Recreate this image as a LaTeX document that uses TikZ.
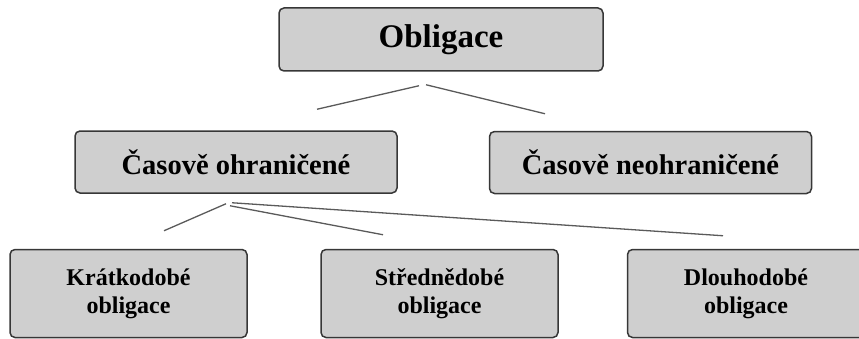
\documentclass[tikz,border=0pt]{standalone}
\usepackage{fontspec}
\setmainfont{Liberation Serif}[BoldFont={Liberation Serif Bold}]
\usepackage{tikz}
\usetikzlibrary{positioning}

\definecolor{boxfill}{RGB}{207,207,207}
\definecolor{boxline}{RGB}{55,55,55}
\definecolor{linkgray}{RGB}{90,90,90}

\tikzset{
    box/.style={draw=boxline, fill=boxfill, line width=1.5pt, rounded corners=5pt,
        inner sep=0pt, align=center, font=\rmfamily\bfseries},
    topbox/.style={box, minimum width=324pt, minimum height=63pt, font=\rmfamily\bfseries\fontsize{33}{38}\selectfont},
    midbox/.style={box, minimum width=322pt, minimum height=62pt, font=\rmfamily\bfseries\fontsize{28.5}{33}\selectfont},
    leafbox/.style={box, minimum width=237pt, minimum height=88pt, font=\rmfamily\bfseries\fontsize{24}{28}\selectfont},
    link/.style={draw=linkgray, line width=1.3pt},
}

\begin{document}
\begin{tikzpicture}[x=1pt, y=1pt]
        \useasboundingbox (0,0) rectangle (859,338);
        % boxes
        \node[topbox] (obl) at (441,298.5) {Obligace};
        \node[midbox] (ohr) at (236,176) {Časově ohraničené};
        \node[midbox] (neohr) at (650.5,175.5) {Časově neohraničené};
        \node[leafbox] (kratko) at (128.5,44.5) {Krátkodobé\\obligace};
        \node[leafbox] (stredne) at (439.5,44.5) {Střednědobé\\obligace};
        \node[leafbox] (dlouho) at (746,44.5) {Dlouhodobé\\obligace};
        % ends of the links
        \coordinate (obl-l) at ([shift={(-22,-14)}]obl.south);
        \coordinate (obl-r) at ([shift={(-15,-13)}]obl.south);
        \coordinate (ohr-in) at ([shift={(81,21)}]ohr.north);
        \coordinate (neohr-in) at ([shift={(-105.5,17)}]neohr.north);
        \coordinate (ohr-a) at ([shift={(-10,-10)}]ohr.south);
        \coordinate (ohr-b) at ([shift={(-6,-12)}]ohr.south);
        \coordinate (ohr-c) at ([shift={(-4,-9)}]ohr.south);
        \coordinate (kratko-in) at ([shift={(35.5,18)}]kratko.north);
        \coordinate (stredne-in) at ([shift={(-56.5,14)}]stredne.north);
        \coordinate (dlouho-in) at ([shift={(-23,13)}]dlouho.north);
        % links
        \draw[link] (obl-l) -- (ohr-in);
        \draw[link] (obl-r) -- (neohr-in);
        \draw[link] (ohr-a) -- (kratko-in);
        \draw[link] (ohr-b) -- (stredne-in);
        \draw[link] (ohr-c) -- (dlouho-in);
    \end{tikzpicture}
\end{document}
